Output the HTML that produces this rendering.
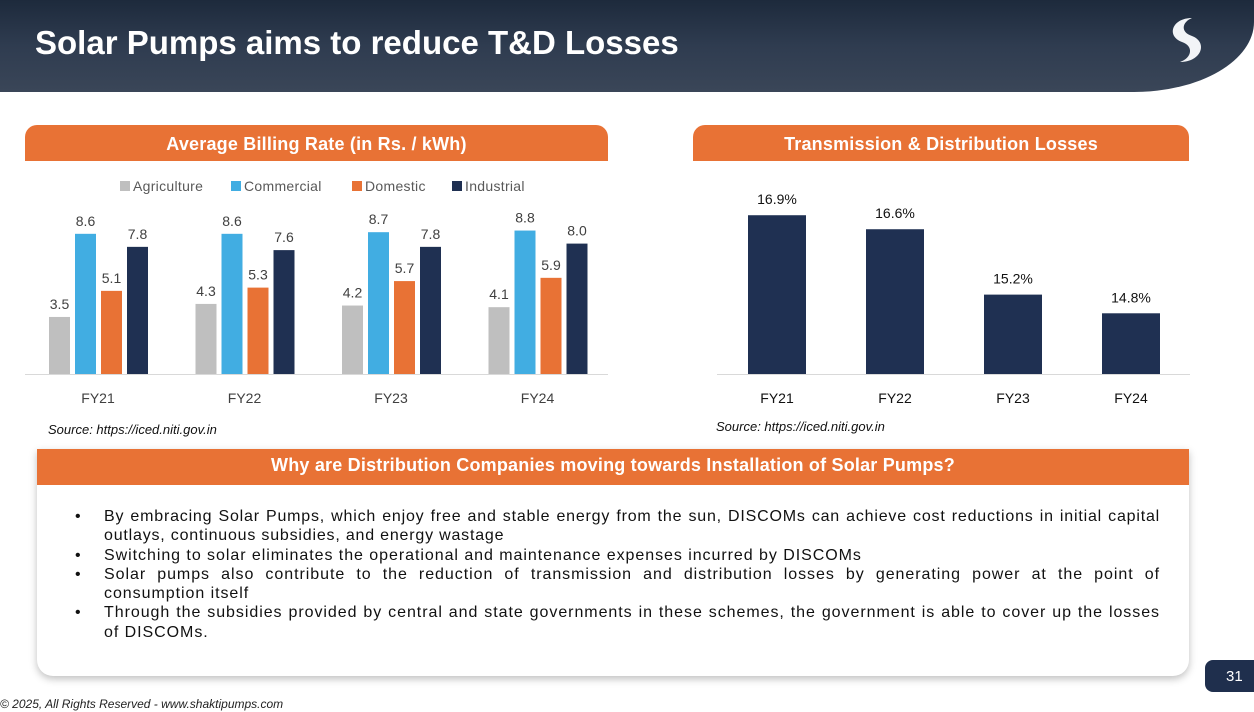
<!DOCTYPE html>
<html><head><meta charset="utf-8">
<style>
*{margin:0;padding:0;box-sizing:border-box}
body{width:1254px;height:712px;position:relative;background:#fff;font-family:"Liberation Sans",sans-serif;overflow:hidden}
.abs{position:absolute}
.hdr{left:0;top:0;width:1254px;height:92px;background:linear-gradient(180deg,#1d2a3c 0%,#2f3c50 50%,#3a4658 100%);border-bottom-right-radius:120px 70px}
.title{left:35px;top:24px;color:#fff;font-size:33px;font-weight:bold;letter-spacing:0px}
.ob{background:#e87235;color:#fff;font-weight:bold;font-size:18px;text-align:center;border-radius:12px 12px 0 0;letter-spacing:0.2px}
.src{font-size:13px;font-style:italic;color:#111}
.card{left:37px;top:449px;width:1152px;height:227px;background:#fff;border-radius:0 0 16px 16px;box-shadow:0 3px 8px rgba(0,0,0,.25)}
ul{list-style:none}
li{position:relative;font-size:16px;line-height:19.3px;color:#111;text-align:justify;letter-spacing:0.95px}
li.first{letter-spacing:0.8px}
li:before{content:"•";position:absolute;left:-29px}
</style></head><body>
<div class="abs hdr"></div>
<div class="abs title">Solar Pumps aims to reduce T&amp;D Losses</div>
<svg class="abs" style="left:1158px;top:14px" width="56" height="52">
<path d="M34 4 C14 4 8 22 24 28 C36 32 34 44 22 48 C44 48 50 28 34 22 C22 18 24 8 34 4Z" fill="#f2f4f7"/>
</svg>

<div class="abs ob" style="left:25px;top:125px;width:583px;height:36px;line-height:38px">Average Billing Rate (in Rs. / kWh)</div>
<div class="abs ob" style="left:693px;top:125px;width:496px;height:36px;line-height:38px">Transmission &amp; Distribution Losses</div>

<svg id="c1" class="abs" style="left:0;top:170px" width="620" height="240"></svg>
<svg id="c2" class="abs" style="left:690px;top:170px" width="500" height="240"></svg>

<div class="abs src" style="left:48px;top:422px">Source: https://iced.niti.gov.in</div>
<div class="abs src" style="left:716px;top:419px">Source: https://iced.niti.gov.in</div>

<div class="abs card"></div>
<div class="abs ob" style="left:37px;top:449px;width:1152px;height:36px;line-height:32px;border-radius:0">Why are Distribution Companies moving towards Installation of Solar Pumps?</div>
<ul class="abs" style="left:104px;top:507px;width:1056px">
<li class="first">By embracing Solar Pumps, which enjoy free and stable energy from the sun, DISCOMs can achieve cost reductions in initial capital outlays, continuous subsidies, and energy wastage</li>
<li>Switching to solar eliminates the operational and maintenance expenses incurred by DISCOMs</li>
<li>Solar pumps also contribute to the reduction of transmission and distribution losses by generating power at the point of consumption itself</li>
<li>Through the subsidies provided by central and state governments in these schemes, the government is able to cover up the losses of DISCOMs.</li>
</ul>
<div class="abs" style="left:1205px;top:660px;width:60px;height:32px;background:#1f2f4d;border-radius:8px;color:#fff;font-size:15px;line-height:34px;padding-left:21px">31</div>
<div class="abs" style="left:0;top:697px;font-size:12px;font-style:italic;color:#222">© 2025, All Rights Reserved - www.shaktipumps.com</div>

<script>
const NS="http://www.w3.org/2000/svg";
const years=["FY21","FY22","FY23","FY24"];
const seriesNames=["Agriculture","Commercial","Domestic","Industrial"];
const agriculture=[3.5,4.3,4.2,4.1];
const commercial=[8.6,8.6,8.7,8.8];
const domestic=[5.1,5.3,5.7,5.9];
const industrial=[7.8,7.6,7.8,8.0];
const lossYears=["FY21","FY22","FY23","FY24"];
const losses=[16.9,16.6,15.2,14.8];
const lossLabels=["16.9%","16.6%","15.2%","14.8%"];

function mk(p,tag,a,txt){const e=document.createElementNS(NS,tag);for(const k in a)e.setAttribute(k,a[k]);if(txt!==undefined)e.textContent=txt;p.appendChild(e);return e;}

// chart 1
const c1=document.getElementById('c1');
const colors=["#bfbfbf","#41ade2","#e87235","#1f3052"];
const series=[agriculture,commercial,domestic,industrial];
const base1=204, k1=16.3;
const y1=v=>base1-v*k1;
const x1=(g,s)=>49+g*146.5+s*26;
let l=mk(c1,'line',{x1:25,x2:608,y1:base1+0.5,y2:base1+0.5,stroke:'#d9d9d9','stroke-width':1});


const legX=[120,231,352,452];
seriesNames.forEach((n,i)=>{
  const r=mk(c1,'rect',{x:legX[i],y:11,width:10,height:10,fill:colors[i]});
  
  
  const t=mk(c1,'text',{x:legX[i]+13,y:21,'font-size':14,fill:'#595959','letter-spacing':0.3},n);
  
  
});
years.forEach((yr,g)=>{
  series.forEach((s,i)=>{
    const r=mk(c1,'rect',{x:x1(g,i),y:y1(s[g]),width:21,height:s[g]*k1,fill:colors[i]});
    
    
    const t=mk(c1,'text',{x:x1(g,i)+10.5,y:y1(s[g])-8,'text-anchor':'middle','font-size':14,fill:'#404040'},s[g].toFixed(1));
    
    
  });
  const t=mk(c1,'text',{x:x1(g,0)+49,y:233,'text-anchor':'middle','font-size':14,fill:'#404040'},yr);
  
  
});

// chart 2
const c2=document.getElementById('c2');
const base2=204, k2=46.7, min2=13.5;
const y2=v=>base2-(v-min2)*k2;
const x2=i=>58+i*118;
l=mk(c2,'line',{x1:27,x2:500,y1:base2+0.5,y2:base2+0.5,stroke:'#d9d9d9','stroke-width':1});


losses.forEach((v,i)=>{
  const r=mk(c2,'rect',{x:x2(i),y:y2(v),width:58,height:(v-min2)*k2,fill:'#1f3052'});
  
  
  const t=mk(c2,'text',{x:x2(i)+29,y:y2(v)-11,'text-anchor':'middle','font-size':14,fill:'#111'},lossLabels[i]);
  
  
  const tk=mk(c2,'text',{x:x2(i)+29,y:233,'text-anchor':'middle','font-size':14,fill:'#111'},lossYears[i]);
  
  
});
</script>
</body></html>
